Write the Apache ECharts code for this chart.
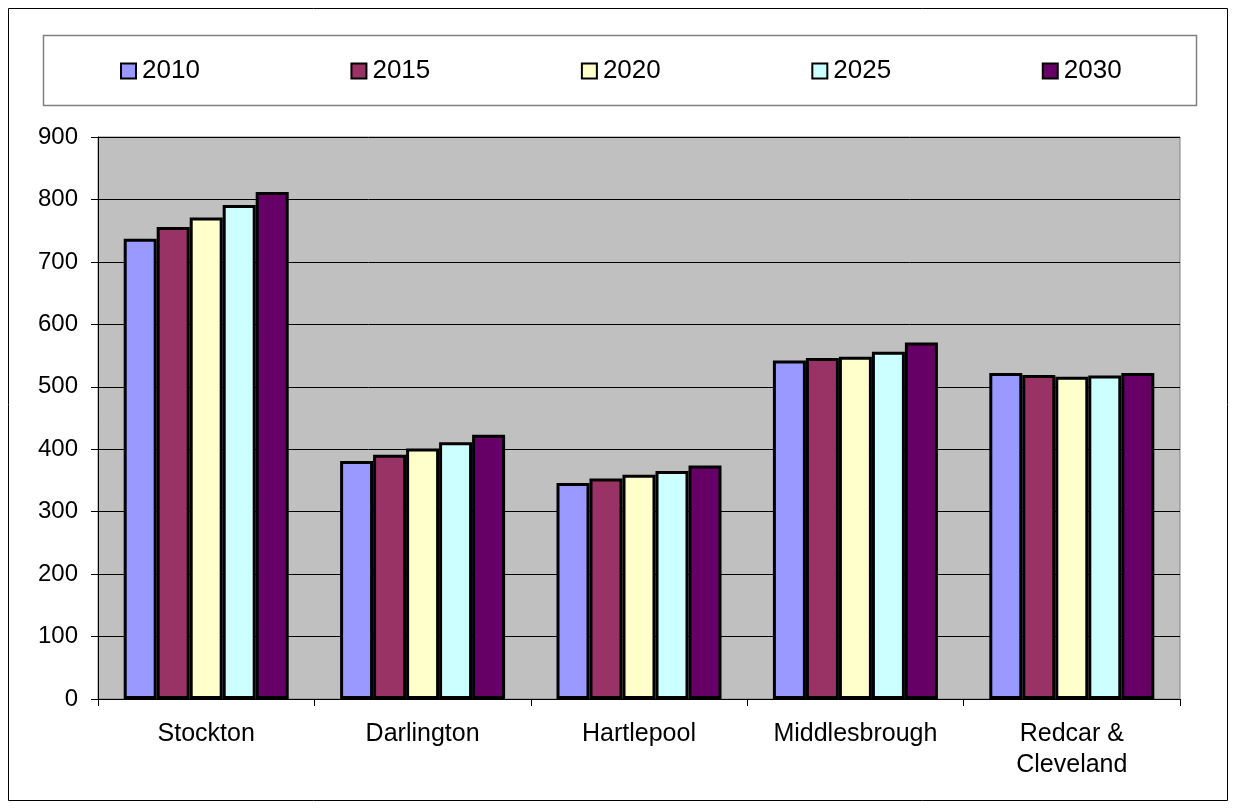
<!DOCTYPE html>
<html>
<head>
<meta charset="utf-8">
<script src="https://cdn.jsdelivr.net/npm/echarts@6/dist/echarts.min.js"></script>
<style>
  html, body { margin: 0; padding: 0; background: #fff; }
  #chart { width: 1233px; height: 810px; }
</style>
</head>
<body>
<div id="chart"></div>
<script>
// Households by district, projected every five years
const districts = ['Stockton', 'Darlington', 'Hartlepool', 'Middlesbrough', 'Redcar &\nCleveland'];
const years = ['2010', '2015', '2020', '2025', '2030'];
const values2010 = [737, 381, 346, 542, 522];
const values2015 = [756, 391, 353, 546, 519];
const values2020 = [771, 401, 359, 548, 516];
const values2025 = [791, 411, 365, 556, 518];
const values2030 = [812, 423, 374, 571, 522];
const yTicks = [0, 100, 200, 300, 400, 500, 600, 700, 800, 900];

const seriesValues = [values2010, values2015, values2020, values2025, values2030];
const seriesColors = ['#9999FF', '#993366', '#FFFFCC', '#CCFFFF', '#660066'];
const FONT = '"Liberation Sans", Arial, sans-serif';

const chart = echarts.init(document.getElementById('chart'), null, { renderer: 'canvas' });

chart.setOption({
  backgroundColor: '#ffffff',
  animation: false,
  textStyle: { fontFamily: FONT },
  graphic: [
    { // outer frame
      type: 'rect', z: -10,
      shape: { x: 8.5, y: 8.5, width: 1219, height: 792 },
      style: { fill: 'none', stroke: '#000', lineWidth: 1 }
    },
    { // legend frame
      type: 'rect', z: -5,
      shape: { x: 43.5, y: 35.5, width: 1153, height: 70 },
      style: { fill: '#fff', stroke: '#808080', lineWidth: 1.5 }
    }
  ],
  legend: {
    left: 120,
    top: 58,
    padding: 0,
    itemGap: 150.6,
    itemWidth: 15,
    itemHeight: 15,
    icon: 'rect',
    selectedMode: false,
    itemStyle: { borderColor: '#000', borderWidth: 2 },
    textStyle: { fontFamily: FONT, fontSize: 26, color: '#000', padding: [0, 0, 0, 1] },
    data: years
  },
  grid: {
    left: 98, right: 53, top: 137, bottom: 111,
    show: true,
    backgroundColor: '#C0C0C0',
    borderColor: '#808080',
    borderWidth: 1
  },
  xAxis: {
    type: 'category',
    data: districts,
    axisLine: { show: true, lineStyle: { color: '#000', width: 1 } },
    axisTick: { show: true, length: 7, lineStyle: { color: '#000' } },
    axisLabel: {
      fontFamily: FONT, fontSize: 25, color: '#000',
      margin: 20, lineHeight: 31, interval: 0
    },
    splitLine: { show: false }
  },
  yAxis: {
    type: 'value',
    min: yTicks[0],
    max: yTicks[yTicks.length - 1],
    interval: yTicks[1] - yTicks[0],
    axisLine: { show: true, lineStyle: { color: '#000', width: 1 } },
    axisTick: { show: true, length: 7, lineStyle: { color: '#000' } },
    axisLabel: { fontFamily: FONT, fontSize: 24, color: '#000', margin: 20 },
    splitLine: { show: true, lineStyle: { color: '#000', width: 1 } }
  },
  series: years.map((y, i) => ({
    name: y,
    type: 'bar',
    data: seriesValues[i],
    barWidth: 33,
    barGap: '0%',
    itemStyle: { color: seriesColors[i], borderColor: '#000', borderWidth: 3 }
  }))
});
</script>
</body>
</html>
